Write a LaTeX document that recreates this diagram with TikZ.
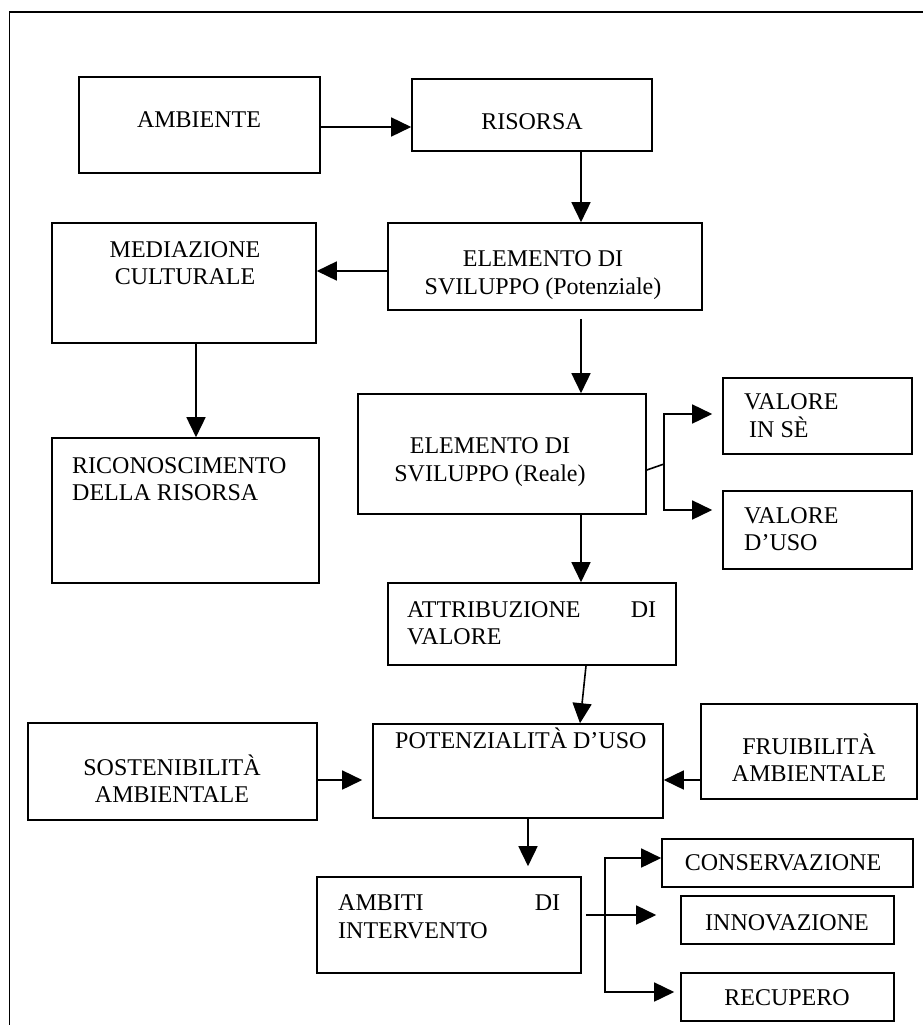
\documentclass[tikz,border=0pt]{standalone}
\usepackage{fontspec}
\setmainfont{Liberation Serif}
\usetikzlibrary{arrows.meta}

\begin{document}
\begin{tikzpicture}[x=1pt,y=-1pt,font=\fontsize{24}{27.5}\selectfont,
	box/.style={draw,line width=1.6pt,inner sep=0pt},
	txt/.style={inner sep=0pt},
	arr/.style={line width=1.6pt,-{Triangle[length=20pt,width=19pt]}}]
	
	\useasboundingbox (0,0) rectangle (923,1025);
	\draw[line width=1.6pt] (9.5,1025) -- (9.5,12) -- (923,12);
	
	\node (ambiente) [box,minimum width=241pt,minimum height=96pt] at (199.5,125) {};
	\node (risorsa) [box,minimum width=240pt,minimum height=72pt] at (532,115) {};
	\node (mediazione) [box,minimum width=264pt,minimum height=120pt] at (184,283) {};
	\node (potenziale) [box,minimum width=314pt,minimum height=87pt] at (545,266.5) {};
	\node (riconosc) [box,minimum width=267pt,minimum height=145pt] at (185.5,510.5) {};
	\node (reale) [box,minimum width=288pt,minimum height=120pt] at (502,454) {};
	\node (inse) [box,minimum width=189pt,minimum height=76pt] at (817.5,416) {};
	\node (uso) [box,minimum width=189pt,minimum height=78pt] at (817.5,530) {};
	\node (attrib) [box,minimum width=288pt,minimum height=82pt] at (532,624) {};
	\node (potuso) [box,minimum width=290pt,minimum height=94pt] at (518,771) {};
	\node (sosten) [box,minimum width=289pt,minimum height=97pt] at (172.5,771.5) {};
	\node (fruib) [box,minimum width=216pt,minimum height=95pt] at (809,751.5) {};
	\node (ambiti) [box,minimum width=264pt,minimum height=96pt] at (449,925) {};
	\node (conserv) [box,minimum width=251pt,minimum height=48pt] at (787.5,863) {};
	\node (innov) [box,minimum width=213pt,minimum height=48pt] at (787.5,920) {};
	\node (recup) [box,minimum width=213pt,minimum height=48pt] at (787.5,997) {};
	
	\node (ambiente-t) [txt] at (199,120) {AMBIENTE};
	\node (risorsa-t) [txt] at (532,122) {RISORSA};
	\node (mediazione-t) [txt,align=center] at (185,263) {MEDIAZIONE\\CULTURALE};
	\node (potenziale-t) [txt,align=center] at (543,275) {ELEMENTO DI\\SVILUPPO (Potenziale)};
	\node (riconosc-t) [txt,align=left,anchor=west] at (72,479) {RICONOSCIMENTO\\DELLA RISORSA};
	\node (reale-t) [txt,align=center] at (490,462) {ELEMENTO DI\\SVILUPPO (Reale)};
	\node (inse-t) [txt,align=left,anchor=west] at (744,415.5) {VALORE\\\hspace*{5pt}IN SÈ};
	\node (uso-t) [txt,align=left,anchor=west] at (744,529) {VALORE\\D’USO};
	\node (attrib-t) [txt,align=left,text width=249pt,anchor=west] at (407,623) {ATTRIBUZIONE\hfill DI\\VALORE};
	\node (potuso-t) [txt,anchor=base west] at (395,748) {POTENZIALITÀ D’USO};
	\node (sosten-t) [txt,align=center] at (172,778.5) {SOSTENIBILITÀ\\AMBIENTALE};
	\node (fruib-t) [txt,align=center] at (809,757.5) {FRUIBILITÀ\\AMBIENTALE};
	\node (ambiti-t) [txt,align=left,text width=222pt,anchor=west] at (338,916.5) {AMBITI\hfill DI\\INTERVENTO};
	\node (conserv-t) [txt] at (783,863) {CONSERVAZIONE};
	\node (innov-t) [txt] at (787,923) {INNOVAZIONE};
	\node (recup-t) [txt] at (787,998) {RECUPERO};
	
	\coordinate (c1) at (581,0);
	\coordinate (c2) at (196,0);
	\coordinate (c4) at (528,0);
	\coordinate (r0) at (0,127);
	\coordinate (r1) at (0,780);
	\coordinate (r2) at (0,915);
	\coordinate (r3) at (0,271);
	\coordinate (b0) at (664,464);
	\coordinate (b1) at (664,414);
	\coordinate (b2) at (664,510);
	\coordinate (d1) at (605,858);
	\coordinate (d2) at (605,992);
	
	\draw[arr] (ambiente.east |- r0) -- (risorsa.west |- r0);
	\draw[arr] (risorsa.south -| c1) -- (potenziale.north -| c1);
	\draw[arr] (potenziale.west |- r3) -- (mediazione.east |- r3);
	\draw[arr] (mediazione.south -| c2) -- (riconosc.north -| c2);
	\draw[arr,shorten <=8pt] (potenziale.south -| c1) -- (reale.north -| c1);
	\draw[line width=1.6pt] ([yshift=-16pt]reale.east) -- (b0);
	\draw[arr,shorten >=10pt] (b0) -- (b1) -- (b1 -| inse.west);
	\draw[arr,shorten >=10pt] (b0) -- (b2) -- (b2 -| uso.west);
	\draw[arr] (reale.south -| c1) -- (attrib.north -| c1);
	\draw[arr] ([xshift=54pt]attrib.south) -- ([xshift=62pt]potuso.north);
	\draw[arr,shorten >=10pt] (sosten.east |- r1) -- (potuso.west |- r1);
	\draw[arr] (fruib.west |- r1) -- (potuso.east |- r1);
	\draw[arr,shorten >=10pt] (potuso.south -| c4) -- (ambiti.north -| c4);
	\draw[arr] (d2) -- (d1) -- (d1 -| conserv.west);
	\draw[arr,shorten >=6pt] (d1) -- (d2) -- (d2 -| recup.west);
	\draw[arr,shorten <=4pt,shorten >=24pt] (ambiti.east |- r2) -- (innov.west |- r2);
	
\end{tikzpicture}
\end{document}
